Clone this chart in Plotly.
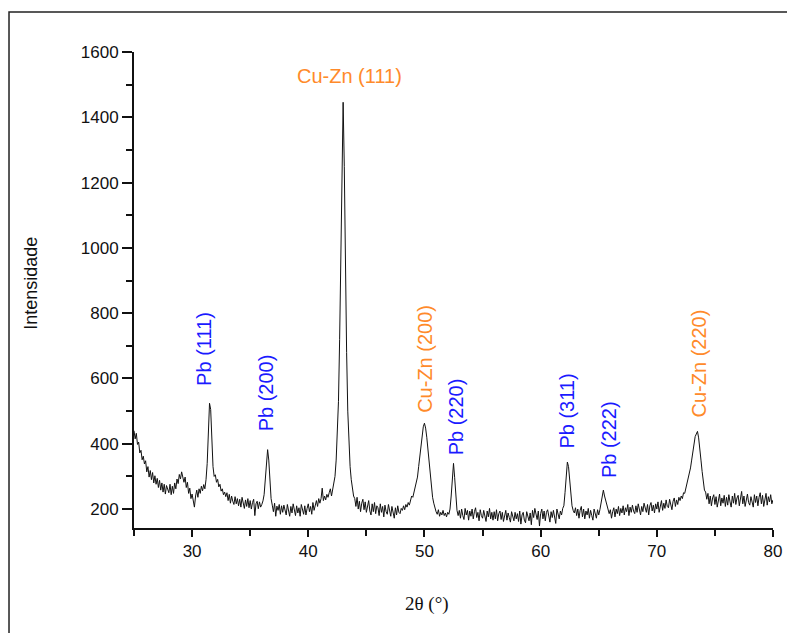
import plotly.graph_objects as go

# 2-theta grid: 25.0 .. 80.0 in 0.1 degree steps (551 readings)
two_theta = [round(25.0 + 0.1 * i, 1) for i in range(551)]

intensity = [
    # 25.x
    440, 415, 432, 398, 405, 372, 380, 351, 362, 338,
    # 26.x
    348, 314, 330, 298, 318, 290, 312, 280, 302, 276,
    # 27.x
    294, 266, 288, 258, 280, 252, 276, 246, 272, 258,
    # 28.x
    250, 276, 244, 270, 248, 280, 262, 292, 278, 306,
    # 29.x
    292, 314, 296, 282, 298, 266, 282, 248, 264, 232,
    # 30.x
    246, 224, 206, 240, 258, 236, 262, 248, 270, 256,
    # 31.x
    275, 262, 290, 340, 445, 524, 505, 410, 330, 300,
    # 32.x
    305, 282, 291, 268, 276, 255, 262, 244, 252, 238,
    # 33.x
    250, 226, 245, 218, 240, 224, 214, 238, 216, 232,
    # 34.x
    210, 230, 206, 236, 214, 202, 228, 208, 232, 204,
    # 35.x
    226, 200, 220, 230, 180, 216, 224, 201, 222, 206,
    # 36.x
    214, 225, 244, 290, 355, 382, 350, 280, 232, 212,
    # 37.x
    192, 218, 178, 209, 196, 214, 184, 210, 190, 212,
    # 38.x
    198, 182, 214, 192, 178, 208, 188, 216, 194, 180,
    # 39.x
    210, 188, 204, 178, 214, 196, 184, 210, 182, 202,
    # 40.x
    216, 192, 208, 184, 220, 196, 212, 226, 208, 232,
    # 41.x
    218, 232, 264, 226, 240, 228, 245, 236, 250, 262,
    # 42.x
    240, 258, 272, 300, 350, 420, 530, 720, 980, 1290,
    # 43.x
    1446, 1250, 930, 680, 500, 390, 330, 290, 262, 240,
    # 44.x
    232, 208, 236, 200, 224, 192, 218, 230, 198, 222,
    # 45.x
    190, 214, 226, 194, 182, 216, 192, 220, 186, 210,
    # 46.x
    204, 180, 216, 190, 208, 176, 212, 192, 184, 214,
    # 47.x
    196, 178, 208, 188, 172, 204, 182, 210, 190, 186,
    # 48.x
    202, 196, 210, 198, 214, 206, 220, 212, 228, 240,
    # 49.x
    236, 250, 262, 285, 298, 330, 365, 400, 430, 452,
    # 50.x
    463, 448, 420, 385, 340, 300, 262, 236, 218, 200,
    # 51.x
    192, 184, 198, 178, 190, 182, 196, 180, 188, 176,
    # 52.x
    190, 184, 200, 240, 310, 340, 296, 230, 196, 180,
    # 53.x
    196, 172, 200, 180, 168, 202, 182, 196, 166, 194,
    # 54.x
    178, 200, 170, 192, 204, 174, 190, 164, 198, 180,
    # 55.x
    172, 196, 180, 162, 194, 176, 202, 170, 190, 166,
    # 56.x
    192, 170, 198, 164, 186, 194, 168, 190, 162, 184,
    # 57.x
    196, 166, 188, 174, 160, 192, 176, 164, 190, 170,
    # 58.x
    186, 162, 194, 154, 182, 190, 166, 158, 192, 172,
    # 59.x
    164, 188, 152, 196, 174, 202, 182, 168, 194, 148,
    # 60.x
    186, 200, 170, 194, 164, 190, 198, 176, 160, 192,
    # 61.x
    174, 196, 180, 156, 200, 178, 170, 194, 182, 202,
    # 62.x
    210, 250, 315, 344, 330, 282, 238, 210, 196, 188,
    # 63.x
    204, 180, 200, 172, 196, 208, 176, 200, 170, 194,
    # 64.x
    182, 202, 172, 196, 180, 166, 200, 184, 172, 198,
    # 65.x
    182, 198, 220, 246, 258, 240, 228, 210, 198, 186,
    # 66.x
    198, 172, 192, 204, 176, 200, 186, 208, 180, 202,
    # 67.x
    188, 210, 182, 204, 192, 214, 180, 206, 190, 212,
    # 68.x
    194, 186, 210, 190, 216, 196, 182, 208, 192, 218,
    # 69.x
    198, 190, 214, 182, 210, 220, 194, 212, 188, 216,
    # 70.x
    200, 222, 190, 214, 226, 196, 218, 202, 228, 208,
    # 71.x
    204, 230, 210, 198, 224, 234, 208, 228, 214, 236,
    # 72.x
    226, 240, 232, 250, 248, 262, 275, 290, 305, 326,
    # 73.x
    350, 378, 402, 422, 430, 438, 418, 392, 350, 315,
    # 74.x
    288, 258, 252, 230, 248, 216, 240, 210, 234, 244,
    # 75.x
    214, 238, 206, 232, 246, 210, 234, 218, 242, 208,
    # 76.x
    236, 212, 244, 222, 206, 240, 218, 248, 214, 234,
    # 77.x
    242, 210, 236, 254, 216, 240, 208, 234, 246, 220,
    # 78.x
    212, 238, 224, 206, 244, 220, 240, 210, 236, 250,
    # 79.x
    216, 242, 208, 234, 248, 212, 238, 222, 244, 216,
    # 80.0
    228,
]

# Peak labels: text, phase, anchor (2theta, intensity) of label
label_text = ["Pb (111)", "Pb (200)", "Cu-Zn (200)", "Pb (220)",
              "Pb (311)", "Pb (222)", "Cu-Zn (220)"]
label_phase = ["Pb", "Pb", "CuZn", "Pb", "Pb", "Pb", "CuZn"]
label_x = [31.02, 36.35, 50.03, 52.69, 62.28, 65.85, 73.59]
label_y = [571, 433, 488, 359, 378, 289, 473]

main_label_text = "Cu-Zn (111)"
main_label_x = 43.58
main_label_y = 1528

x_ticks = [30, 40, 50, 60, 70, 80]
y_ticks = [200, 400, 600, 800, 1000, 1200, 1400, 1600]

phase_color = {"Pb": "#1a1aff", "CuZn": "#ff8a2a"}
SANS = "Liberation Sans, Arial, sans-serif"
SERIF = "Liberation Serif, Times New Roman, serif"

fig = go.Figure()
fig.add_trace(go.Scatter(
    x=two_theta, y=intensity, mode="lines",
    line=dict(color="#111111", width=1), showlegend=False,
    hoverinfo="skip",
))

annotations = []
for t, ph, lx, ly in zip(label_text, label_phase, label_x, label_y):
    annotations.append(dict(
        x=lx, y=ly, xref="x", yref="y", text=t, showarrow=False,
        textangle=-90, xanchor="center", yanchor="bottom",
        font=dict(family=SANS, size=20, color=phase_color[ph]),
    ))
annotations.append(dict(
    x=main_label_x, y=main_label_y, xref="x", yref="y", text=main_label_text,
    showarrow=False, xanchor="center", yanchor="middle",
    font=dict(family=SANS, size=20, color=phase_color["CuZn"]),
))
# axis titles
annotations.append(dict(
    x=0, y=0.513, xref="paper", yref="paper", xshift=-103,
    text="Intensidade", showarrow=False, textangle=-90,
    xanchor="center", yanchor="middle",
    font=dict(family=SANS, size=18, color="#111111"),
))
annotations.append(dict(
    x=0.4585, y=0, xref="paper", yref="paper", yshift=-76,
    text="2θ (°)", showarrow=False, xanchor="center", yanchor="middle",
    font=dict(family=SERIF, size=19, color="#111111"),
))

fig.update_layout(
    width=787, height=625,
    margin=dict(l=126, r=22, t=44, b=105),
    paper_bgcolor="white", plot_bgcolor="white",
    annotations=annotations,
    shapes=[dict(type="rect", xref="paper", yref="paper",
                 x0=-0.1956, y0=-0.25, x1=1.06, y1=1.084,
                 line=dict(color="#222222", width=1.5),
                 fillcolor="rgba(0,0,0,0)", layer="below")],
)
fig.update_xaxes(
    range=[25, 80], tickvals=x_ticks, ticktext=[str(v) for v in x_ticks],
    showline=True, linewidth=2, linecolor="#111111",
    ticks="outside", ticklen=7, tickwidth=2, tickcolor="#111111",
    minor=dict(ticks="outside", ticklen=6, tickwidth=2, tickcolor="#111111",
               tickvals=[25, 35, 45, 55, 65, 75]),
    showgrid=False, zeroline=False,
    tickfont=dict(family=SANS, size=17, color="#111111"),
)
fig.update_yaxes(
    range=[142, 1600], tickvals=y_ticks, ticktext=[str(v) for v in y_ticks],
    showline=True, linewidth=2, linecolor="#111111",
    ticks="outside", ticklen=10, tickwidth=2, tickcolor="#111111",
    minor=dict(ticks="outside", ticklen=6, tickwidth=2, tickcolor="#111111",
               tickvals=[300, 500, 700, 900, 1100, 1300, 1500]),
    showgrid=False, zeroline=False,
    tickfont=dict(family=SANS, size=17, color="#111111"),
)

fig.write_html("out.html")
